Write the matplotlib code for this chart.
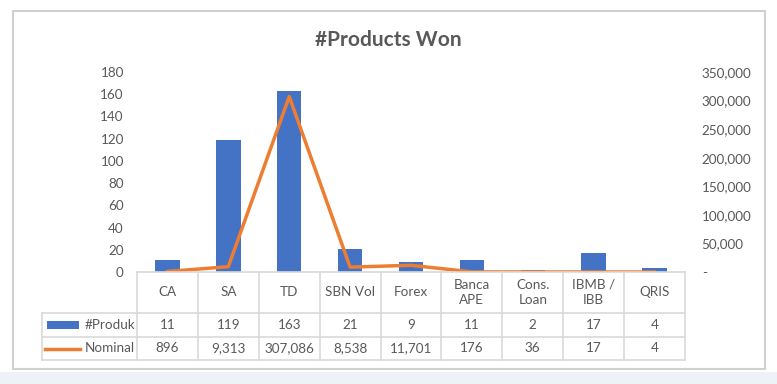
import matplotlib.pyplot as plt
import matplotlib.transforms as mtransforms
from matplotlib.lines import Line2D
from matplotlib.patches import Rectangle
import numpy as np

plt.rcParams['font.family'] = ['Lato', 'DejaVu Sans']

categories = ['CA', 'SA', 'TD', 'SBN Vol', 'Forex', 'Banca\nAPE', 'Cons.\nLoan', 'IBMB /\nIBB', 'QRIS']
produk = [11, 119, 163, 21, 9, 11, 2, 17, 4]
nominal = [896, 9313, 307086, 8538, 11701, 176, 36, 17, 4]

BLUE = '#4472C4'
ORANGE = '#ED7D31'
TXT = '#595959'
GRID = '#D9D9D9'
FS = 9.7

W, H = 777, 384
fig = plt.figure(figsize=(W / 100, H / 100), dpi=100)


def fx(px):
    return px / W


def fy(py):
    return 1 - py / H


# background strip + chart frame
fig.add_artist(Rectangle((0, 0), 1, fy(372), transform=fig.transFigure,
                         facecolor='#EEF2F7', edgecolor='none', zorder=0))
fig.add_artist(Rectangle((fx(13), fy(369)), fx(765) - fx(13), fy(11) - fy(369),
                         transform=fig.transFigure, facecolor='white',
                         edgecolor='#D0D0D0', linewidth=1.5, zorder=0))

ax = fig.add_axes([fx(137), fy(272), fx(685) - fx(137), fy(72) - fy(272)])
ax2 = ax.twinx()
x = np.arange(len(categories))

ax.bar(x, produk, width=0.4, color=BLUE, zorder=2)
ax2.plot(x, nominal, color=ORANGE, linewidth=2.5, zorder=3)

ax.set_xlim(-0.5, len(categories) - 0.5)
ax.set_ylim(0, 180)
ax.set_yticks(range(0, 181, 20))
ax2.set_ylim(0, 350000)
ax2.set_yticks(range(0, 350001, 50000))
ax2.set_yticklabels(['-'] + [f'{v:,}' for v in range(50000, 350001, 50000)])
ax.set_xticks([])

for a in (ax, ax2):
    for s in a.spines.values():
        s.set_visible(False)
    a.tick_params(length=0, labelsize=FS, labelcolor=TXT)
    a.patch.set_visible(False)
ax.tick_params(axis='y', pad=9.5)
ax2.tick_params(axis='y', pad=12)

fig.text(0.5, fy(40), '#Products Won', ha='center', va='center',
         fontsize=15, fontweight='bold', color=TXT)

# data table
trans = mtransforms.blended_transform_factory(ax.transData, fig.transFigure)
left, right = 137, 685
leg_left = 42
y_top, y_r1, y_r2, y_bot = 272, 313, 337, 360


def hline(x0, x1, y):
    fig.add_artist(Line2D([fx(x0), fx(x1)], [fy(y), fy(y)], transform=fig.transFigure,
                          color=GRID, linewidth=1.2))


def vline(xp, y0, y1):
    fig.add_artist(Line2D([fx(xp), fx(xp)], [fy(y0), fy(y1)], transform=fig.transFigure,
                          color=GRID, linewidth=1.2))


hline(left, right, y_top)
hline(leg_left, right, y_r1)
hline(leg_left, right, y_r2)
hline(leg_left, right, y_bot)
vline(leg_left, y_r1, y_bot)
for i in range(len(categories) + 1):
    xp = left + (right - left) * i / len(categories)
    vline(xp, y_top, y_bot)

for i, cat in enumerate(categories):
    fig.text(i, fy((y_top + y_r1) / 2), cat, transform=trans, ha='center', va='center',
             fontsize=FS, color=TXT, linespacing=1.35)
    fig.text(i, fy((y_r1 + y_r2) / 2), f'{produk[i]:,}', transform=trans, ha='center',
             va='center', fontsize=FS, color=TXT)
    fig.text(i, fy((y_r2 + y_bot) / 2), f'{nominal[i]:,}', transform=trans, ha='center',
             va='center', fontsize=FS, color=TXT)

# legend keys in table
yk1 = fy((y_r1 + y_r2) / 2)
yk2 = fy((y_r2 + y_bot) / 2)
fig.add_artist(Rectangle((fx(47), yk1 - 4 / H), fx(79) - fx(47), 8 / H,
                         transform=fig.transFigure, facecolor=BLUE, edgecolor='none'))
fig.add_artist(Line2D([fx(45), fx(80)], [yk2, yk2], transform=fig.transFigure,
                      color=ORANGE, linewidth=2.5))
fig.text(fx(135), yk1, '#Produk', ha='right', va='center', fontsize=FS, color=TXT)
fig.text(fx(135), yk2, 'Nominal', ha='right', va='center', fontsize=FS, color=TXT)

fig.savefig('out.png', dpi=100)
